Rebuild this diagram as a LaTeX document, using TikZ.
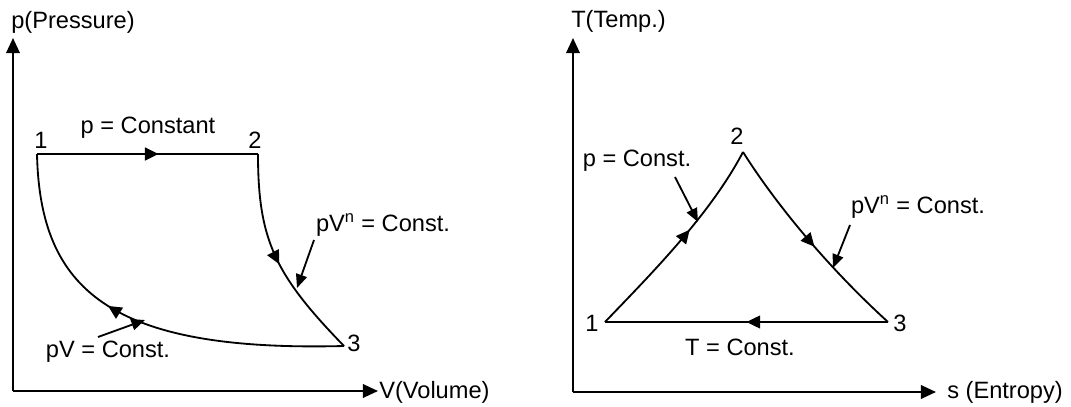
\documentclass[tikz,border=0pt]{standalone}
\usepackage{fontspec}
\setmainfont{Liberation Sans}
\usetikzlibrary{arrows.meta, decorations.markings}

\begin{document}
\begin{tikzpicture}[
    x=0.025cm, y=-0.025cm,
    every node/.style={font=\fontsize{16.8}{19}\selectfont, inner sep=0pt, text=black},
    axis/.style={line width=1.5pt, -{Triangle[length=0.38cm,width=0.34cm]}},
    process/.style={line width=1.3pt},
    midarrow/.style={postaction={decorate}, decoration={markings,
      mark=at position #1 with {\arrow{Triangle[length=0.34cm,width=0.32cm]}}}},
    pointer/.style={line width=1.3pt, -{Triangle[length=0.34cm,width=0.28cm]}}
  ]

    \useasboundingbox (0,0) rectangle (1071,407);

    % Left: p-V diagram
    \coordinate (O1) at (13,391);
    \coordinate (pend) at (13,38);
    \coordinate (vend) at (378,391);
    \draw[axis] (O1) -- (pend);
    \draw[axis] (O1) -- (vend);
    \node[anchor=west] (plab) at (11,22) {p(Pressure)};
    \node[anchor=west] (vlab) at (379,392) {V(Volume)};

    \coordinate (P1) at (37,154);
    \coordinate (P2) at (258,154);
    \coordinate (P3) at (344,346);

    \node (n1) at (41,140) {1};
    \node (n2) at (255,140) {2};
    \node (n3) at (354,343) {3};
    \node (pconst) at (148,128) {p = Constant};
    \node (pvnL) at (383,225) {pV\textsuperscript{n} = Const.};
    \node (pvL) at (108,352) {pV = Const.};

    \draw[process, midarrow=0.55] (P1) -- (P2);
    \draw[process, midarrow=0.52] (P2) .. controls (258,240) and (275,275) .. (P3);
    \draw[process, midarrow=0.58] (P3) .. controls (110,352) and (40,290) .. (P1);

    \coordinate (tA) at (314,240);
    \coordinate (hA) at (297,288);
    \coordinate (tB) at (98,337);
    \coordinate (hB) at (145,320);
    \draw[pointer] (tA) -- (hA);
    \draw[pointer] (tB) -- (hB);

    % Right: T-s diagram
    \coordinate (O2) at (573,392);
    \coordinate (tend) at (573,38);
    \coordinate (send) at (936,392);
    \draw[axis] (O2) -- (tend);
    \draw[axis] (O2) -- (send);
    \node[anchor=west] (tlab) at (571,21) {T(Temp.)};
    \node[anchor=west] (slab) at (947,392) {s (Entropy)};

    \coordinate (Q1) at (605,322);
    \coordinate (Q2) at (743,152);
    \coordinate (Q3) at (888,322);

    \node (m1) at (592,323) {1};
    \node (m2) at (737,136) {2};
    \node (m3) at (900,323) {3};
    \node (pconstR) at (637,161) {p = Const.};
    \node (tconst) at (740,347) {T = Const.};
    \node (pvnR) at (918,207) {pV\textsuperscript{n} = Const.};

    \draw[process, midarrow=0.57] (Q1) .. controls (650,275) and (710,215) .. (Q2);
    \draw[process, midarrow=0.53] (Q2) .. controls (770,195) and (820,260) .. (Q3);
    \draw[process, midarrow=0.5] (Q3) -- (Q1);

    \coordinate (tC) at (675,177);
    \coordinate (hC) at (698,222);
    \coordinate (tD) at (850,225);
    \coordinate (hD) at (833,268);
    \draw[pointer] (tC) -- (hC);
    \draw[pointer] (tD) -- (hD);

  \end{tikzpicture}
\end{document}
